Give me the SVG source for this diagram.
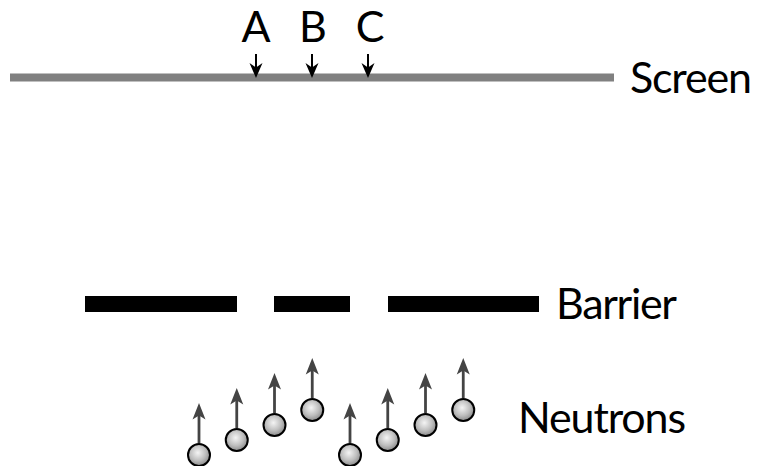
<svg xmlns="http://www.w3.org/2000/svg" width="758" height="466" viewBox="0 0 758 466">
<style>
.lbl{font-family:Lato,"Open Sans","Liberation Sans",sans-serif;font-size:43px;font-weight:400;fill:#000}
.ball{fill:url(#bg);stroke:#000;stroke-width:2}
.nsh{stroke:#444;stroke-width:2.8;fill:none}
.ssh{stroke:#000;stroke-width:2;fill:none}
.nh{fill:#444}
.sh{fill:#000}
</style>
<defs>
<radialGradient id="bg" cx="45%" cy="40%" r="60%">
<stop offset="0" stop-color="#f4f4f4"/>
<stop offset="0.6" stop-color="#bdbdbd"/>
<stop offset="1" stop-color="#8a8a8a"/>
</radialGradient>
<path id="hu" d="M0,0 L-6.5,16.5 L0,12.5 L6.5,16.5 Z"/>
<path id="hd" d="M0,0 L-6.5,-15 L0,-10.5 L6.5,-15 Z"/>
</defs>

<g id="screen">
<rect x="10" y="73.5" width="604" height="8" fill="#808080"/>
<text class="lbl" x="630" y="93.3" textLength="122">Screen</text>
</g>

<g id="barrier">
<rect x="85" y="296" width="152" height="16" fill="#000"/>
<rect x="274" y="296" width="76" height="16" fill="#000"/>
<rect x="388" y="296" width="151" height="16" fill="#000"/>
<text class="lbl" x="556" y="319.3" textLength="121">Barrier</text>
</g>

<g id="labels-abc">
<text class="lbl" x="256" y="41.5" text-anchor="middle">A</text>
<text class="lbl" x="313" y="41.5" text-anchor="middle">B</text>
<text class="lbl" x="370" y="41.5" text-anchor="middle">C</text>
</g>

<g id="neutrons">
<circle class="ball" cx="199" cy="455" r="11"/>
<circle class="ball" cx="236.75" cy="440" r="11"/>
<circle class="ball" cx="274.5" cy="425" r="11"/>
<circle class="ball" cx="312.25" cy="410" r="11"/>
<circle class="ball" cx="350" cy="455" r="11"/>
<circle class="ball" cx="387.75" cy="440" r="11"/>
<circle class="ball" cx="425.5" cy="425" r="11"/>
<circle class="ball" cx="463.25" cy="410" r="11"/>
<text class="lbl" x="518" y="433.3" textLength="168">Neutrons</text>
</g>

<g id="connectors">
<line class="ssh" x1="256" y1="54" x2="256" y2="70"/>
<line class="ssh" x1="312" y1="54" x2="312" y2="70"/>
<line class="ssh" x1="368" y1="54" x2="368" y2="70"/>
<use href="#hd" class="sh" x="256" y="78"/>
<use href="#hd" class="sh" x="312" y="78"/>
<use href="#hd" class="sh" x="368" y="78"/>
<line class="nsh" x1="199" y1="443" x2="199" y2="413"/>
<line class="nsh" x1="236.75" y1="428" x2="236.75" y2="398"/>
<line class="nsh" x1="274.5" y1="413" x2="274.5" y2="383"/>
<line class="nsh" x1="312.25" y1="398" x2="312.25" y2="368"/>
<line class="nsh" x1="350" y1="443" x2="350" y2="413"/>
<line class="nsh" x1="387.75" y1="428" x2="387.75" y2="398"/>
<line class="nsh" x1="425.5" y1="413" x2="425.5" y2="383"/>
<line class="nsh" x1="463.25" y1="398" x2="463.25" y2="368"/>
<use href="#hu" class="nh" x="199" y="403"/>
<use href="#hu" class="nh" x="236.75" y="388"/>
<use href="#hu" class="nh" x="274.5" y="373"/>
<use href="#hu" class="nh" x="312.25" y="358"/>
<use href="#hu" class="nh" x="350" y="403"/>
<use href="#hu" class="nh" x="387.75" y="388"/>
<use href="#hu" class="nh" x="425.5" y="373"/>
<use href="#hu" class="nh" x="463.25" y="358"/>
</g>
</svg>
